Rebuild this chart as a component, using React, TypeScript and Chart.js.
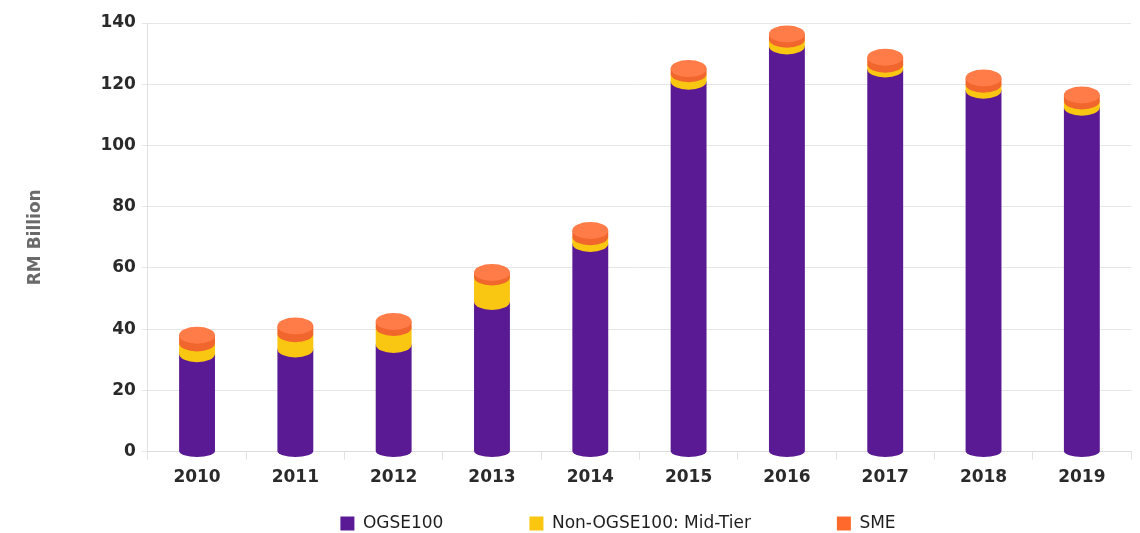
import React, { useEffect, useRef } from "react";
import { Chart, registerables } from "chart.js";

Chart.register(...registerables);

const categories = ["2010", "2011", "2012", "2013", "2014", "2015", "2016", "2017", "2018", "2019"];
const ogse100 = [32, 33.5, 35, 49, 68, 121, 132.5, 125, 118, 112.5];
const midTier = [3.5, 5, 5.5, 8, 2.2, 2.4, 2.2, 1.5, 2, 2];
const sme = [2.5, 2.5, 2, 1.5, 2, 1.7, 1.7, 2.3, 2, 2];
const seriesNames = ["OGSE100", "Non-OGSE100: Mid-Tier", "SME"];

const legendColors = ["#5B1A95", "#FBC60F", "#FF6A2C"];
const sideColors = ["#5A1A93", "#F9C612", "#F0662C"];
const capColor = "#FF7B47";
const FONT = "'DejaVu Sans', sans-serif";
const LEGEND_GAP = 86;

const cylinderPlugin = {
  id: "cylinders",
  afterLayout(chart: any) {
    const lg = chart.legend;
    if (!lg) return;
    const dy = 515 - LEGEND_GAP - lg.top;
    const dx = 40;
    lg.top += dy;
    lg.left += dx;
    lg.right += dx;
  },
  beforeDatasetsDraw(chart: any) {
    const ctx = chart.ctx;
    const n = chart.data.labels.length;
    const nds = chart.data.datasets.length;
    const ry = 8.5;
    const ryBottom = 6;
    ctx.save();
    for (let i = 0; i < n; i++) {
      let topX = 0, topY = 0, topRx = 0;
      for (let d = 0; d < nds; d++) {
        const meta = chart.getDatasetMeta(d);
        const el = meta.data[i];
        if (!el) continue;
        const p = el.getProps(["x", "y", "base", "width"], true);
        const rx = p.width / 2;
        const rb = d === 0 ? ryBottom : ry;
        ctx.fillStyle = sideColors[d];
        ctx.beginPath();
        ctx.moveTo(p.x - rx, p.y);
        ctx.lineTo(p.x - rx, p.base);
        ctx.ellipse(p.x, p.base, rx, rb, 0, Math.PI, 0, true);
        ctx.lineTo(p.x + rx, p.y);
        ctx.closePath();
        ctx.fill();
        topX = p.x; topY = p.y; topRx = rx;
      }
      ctx.fillStyle = capColor;
      ctx.beginPath();
      ctx.ellipse(topX, topY, topRx, ry, 0, 0, Math.PI * 2);
      ctx.fill();
    }
    ctx.restore();
    return false;
  },
};

export default function App() {
  const ref = useRef<HTMLCanvasElement | null>(null);
  useEffect(() => {
    if (!ref.current) return;
    const values = [ogse100, midTier, sme];
    const chart = new Chart(ref.current, {
      type: "bar",
      data: {
        labels: categories,
        datasets: values.map((v, k) => ({
          label: seriesNames[k],
          data: v,
          backgroundColor: legendColors[k],
          borderWidth: 0,
          categoryPercentage: 1,
          barPercentage: 0.365,
        })),
      },
      plugins: [cylinderPlugin],
      options: {
        animation: false,
        responsive: true,
        maintainAspectRatio: false,
        layout: { padding: { top: 23, right: 9, left: 25, bottom: 0 } },
        plugins: {
          tooltip: { enabled: false },
          legend: {
            position: "bottom",
            maxHeight: 37,
            labels: {
              boxWidth: 14,
              boxHeight: 14,
              padding: LEGEND_GAP,
              color: "#1e1e1e",
              font: { family: FONT, size: 17 },
            },
          },
        },
        scales: {
          x: {
            stacked: true,
            offset: true,
            grid: {
              offset: true,
              drawOnChartArea: false,
              tickLength: 8,
              color: "#e3e3e3",
            },
            border: { color: "#dcdcdc" },
            ticks: {
              color: "#2a2a2a",
              padding: 8,
              font: { family: FONT, size: 17, weight: "bold" },
            },
          },
          y: {
            stacked: true,
            min: 0,
            max: 140,
            ticks: {
              stepSize: 20,
              color: "#2a2a2a",
              padding: 6,
              font: { family: FONT, size: 17, weight: "bold" },
            },
            grid: { color: "#e6e6e6", tickLength: 6 },
            border: { color: "#e0e0e0" },
            title: {
              display: true,
              text: "RM Billion",
              color: "#6a6a6a",
              padding: { top: 0, bottom: 49 },
              font: { family: FONT, size: 17, weight: "bold" },
            },
          },
        },
      },
    });
    return () => chart.destroy();
  }, []);
  return (
    <div style={{ position: "fixed", left: 0, top: 0, width: 1140, height: 533, background: "#fff" }}>
      <canvas ref={ref} />
    </div>
  );
}
